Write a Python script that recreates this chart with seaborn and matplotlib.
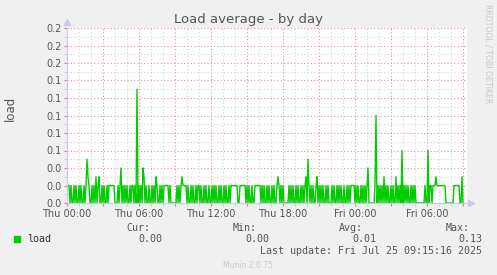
import numpy as np
import pandas as pd
import matplotlib
matplotlib.use("Agg")
import matplotlib.pyplot as plt
import matplotlib.dates as mdates
import matplotlib.ticker as mticker
import seaborn as sns

# ---- data (5-minute samples, load in hundredths; a=10, d=13) ----
start_time = "2025-07-24 00:00"
sample_minutes = 5
hourly_codes = [
    "222020020200", "202002025320", "020203023002", "020020222222",
    "000202402020", "2002022020d0", "202043020020", "020203200202",
    "022222020000", "002020232222", "020020200202", "202002020020",
    "020202002020", "020200202222", "222002222220", "202002002222",
    "220202002020", "020200232020", "200000202020", "020200202023",
    "052020200230", "202020020200", "020200202020", "020020202222",
    "020200202020", "240000002a02", "020203020200", "202003020206",
    "020202002020", "200000000020", "060220222322", "222222200000",
    "000222222003", "0",
]
series_name = "load"
title_text = "Load average - by day"
ytick_values = [0.00, 0.02, 0.04, 0.06, 0.08, 0.10, 0.12, 0.14, 0.16, 0.18, 0.20]
legend_headers = ["Cur:", "Min:", "Avg:", "Max:"]
legend_values = ["0.00", "0.00", "0.01", "0.13"]
last_update = "Last update: Fri Jul 25 09:15:16 2025"
footer_text = "Munin 2.0.75"
side_text = "RRDTOOL / TOBI OETIKER"

codes = "".join(hourly_codes)
load_values = [int(c, 16) / 100.0 for c in codes]
times = pd.date_range(start_time, periods=len(load_values), freq=f"{sample_minutes}min")
df = pd.DataFrame({"time": times, "load": load_values})

# ---- figure ----
W, H = 497, 275
fig = plt.figure(figsize=(W / 100, H / 100), dpi=100, facecolor="#F0F0F0")
ax = fig.add_axes([67 / W, (H - 203) / H, 400 / W, 175 / H])
ax.set_facecolor("white")

sns.lineplot(data=df, x="time", y="load", ax=ax, color="#00CC00", linewidth=1.0)

t0 = pd.Timestamp(start_time)
ax.set_xlim(t0, t0 + pd.Timedelta(minutes=400 * sample_minutes))
ax.set_ylim(0, 0.2)

# grid
ax.xaxis.set_major_locator(mdates.HourLocator(byhour=range(0, 24, 3)))
ax.xaxis.set_minor_locator(mdates.HourLocator())

def xfmt(x, pos):
    d = mdates.num2date(x)
    return d.strftime("%a %H:%M") if d.hour % 6 == 0 else ""

ax.xaxis.set_major_formatter(mticker.FuncFormatter(xfmt))
ax.yaxis.set_major_locator(mticker.FixedLocator(ytick_values))
ax.yaxis.set_minor_locator(mticker.MultipleLocator(0.01))
ax.yaxis.set_major_formatter(mticker.FormatStrFormatter("%.1f"))

ax.grid(which="minor", color="#D4D4D4", linestyle=(0, (1, 2)), linewidth=0.8)
ax.grid(which="major", color="#E49494", linestyle=(0, (1, 2)), linewidth=0.8)
ax.set_axisbelow(True)

ax.tick_params(axis="both", which="major", labelsize=7, labelcolor="#555555",
               length=2, width=0.8, color="#E08080", pad=2)
ax.tick_params(axis="both", which="minor", length=2, width=0.6, color="#C8C8C8")

for s in ["top", "right"]:
    ax.spines[s].set_visible(False)
for s in ["left", "bottom"]:
    ax.spines[s].set_color("#C8C8F0")
    ax.spines[s].set_linewidth(0.8)

# arrows
ax.plot([0], [1.035], marker="^", color="#C8C8F0", markersize=4,
        transform=ax.transAxes, clip_on=False)
ax.plot([1.01], [0], marker=">", color="#C8C8F0", markersize=4,
        transform=ax.transAxes, clip_on=False)

ax.set_xlabel("")
ax.set_ylabel("")

# texts
fig.text(248 / W, 1 - 19 / H, title_text, ha="center", va="center",
         fontsize=9.5, color="#555555")
fig.text(10 / W, 1 - 108 / H, series_name, rotation=90, ha="center", va="center",
         fontsize=8.5, color="#555555")
fig.text(488 / W, 1 - 54 / H, side_text, rotation=270, ha="center", va="center",
         fontsize=5.6, color="#C8C8C8")

mono = "DejaVu Sans Mono"
fig.patches.append(plt.Rectangle((14 / W, 1 - 242 / H), 6 / W, 6 / H,
                                 transform=fig.transFigure, color="#00CC00"))
fig.text(27 / W, 1 - 239.5 / H, series_name, ha="left", va="center",
         fontsize=7.2, family=mono, color="#333333")
hdr_x = [150, 257, 363, 470]
val_x = [162, 269, 376, 482]
for hx, t in zip(hdr_x, legend_headers):
    fig.text(hx / W, 1 - 228 / H, t, ha="right", va="center",
             fontsize=7.2, family=mono, color="#555555")
for vx, t in zip(val_x, legend_values):
    fig.text(vx / W, 1 - 239.5 / H, t, ha="right", va="center",
             fontsize=7.2, family=mono, color="#555555")
fig.text(482 / W, 1 - 251 / H, last_update, ha="right", va="center",
         fontsize=7.2, family=mono, color="#555555")
fig.text(248 / W, 1 - 265 / H, footer_text, ha="center", va="center",
         fontsize=5.5, color="#CCCCCC")

fig.savefig("out.png", dpi=100, facecolor=fig.get_facecolor())
